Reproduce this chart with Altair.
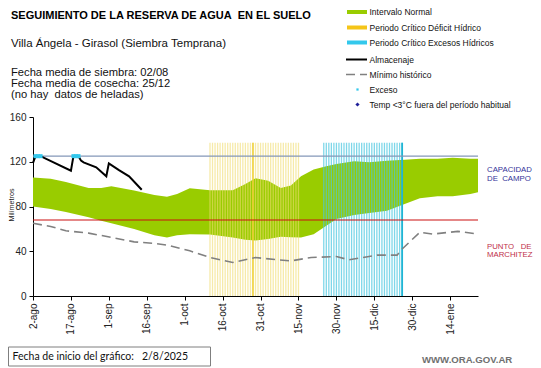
import json
import altair as alt
import pandas as pd

# ---------------- data (days since 2-ago-2025) ----------------
band_day = [0, 7, 13, 22, 27, 31, 40, 48, 53, 57, 62, 70, 79, 84, 88, 93, 98, 102,
            106, 111, 116, 120, 127, 133, 140, 147, 153, 160, 166, 173, 176]
band_low = [80, 77.8, 75, 70.3, 67.3, 65, 60, 54.4, 52.4, 54.4, 55.3, 55, 52.4, 50.2,
            49.7, 51, 53, 52.5, 52.4, 55.3, 62.8, 68.8, 72.4, 74.2, 76.2, 82.2, 87.3,
            89.1, 89.1, 91.2, 92.7]
band_high = [106, 104.7, 102, 96.6, 96.6, 98, 94.2, 90.3, 88.8, 91.2, 96.3, 94.5, 94.5,
             100.2, 105.3, 103, 96.6, 98.7, 107, 113, 116, 118, 120.5, 119.6, 120.8,
             121.7, 122.6, 122.6, 123.5, 122.6, 122.6]

min_day = [0, 7, 13, 22, 31, 40, 48, 53, 62, 70, 79, 88, 97, 102, 110, 120, 125, 136,
           144, 146, 153, 158, 168, 176]
min_val = [65, 62.2, 58.3, 56.2, 52.4, 48.4, 47, 45.5, 40.4, 34.4, 30, 34.4, 32.3,
           31.4, 34.4, 35.3, 32.3, 36.5, 36.5, 42, 57, 55.3, 57.8, 55.3]

alm_day = [0, 1, 3, 15, 16, 18, 19, 20, 25, 29, 30, 34, 38, 43]
alm_val = [119, 125, 125, 112, 125, 125, 121, 119.5, 115, 107, 118.5, 112.5, 107, 95]

exceso_day = [1, 2, 3, 16, 17, 18]
exceso_val = [125, 125, 125, 125, 125, 125]

capacidad_campo = 125
punto_marchitez = 68

deficit_period = (70, 105)
deficit_mark_day = 87
exceso_period = (115, 146)
period_top = 137

tick_days = [0, 15, 30, 45, 60, 75, 90, 105, 120, 135, 150, 165]
tick_labels = ["2-ago", "17-ago", "1-sep", "16-sep", "1-oct", "16-oct", "31-oct",
               "15-nov", "30-nov", "15-dic", "30-dic", "14-ene"]

NB = "\u00a0"

# ---------------- geometry ----------------
W, H = 445, 179
OX, OY = 33, 117   # page position of plot origin
FONT = "Liberation Sans"

xs = alt.Scale(domain=[0, 176], nice=False, zero=False)
ys = alt.Scale(domain=[0, 160], nice=False)

label_expr = json.dumps(tick_labels) + "[round(datum.value/15)]"

band_df = pd.DataFrame({"d": band_day, "lo": band_low, "hi": band_high})
band = alt.Chart(band_df).mark_area(color="#99CC00", opacity=1).encode(
    x=alt.X("d:Q", scale=xs,
            axis=alt.Axis(values=tick_days, labelExpr=label_expr, labelAngle=-90,
                          title=None, grid=False, tickSize=4, labelFontSize=10,
                          labelPadding=3, domainColor="#000", tickColor="#000",
                          labelColor="#222", labelFont=FONT)),
    y=alt.Y("lo:Q", scale=ys,
            axis=alt.Axis(values=list(range(0, 161, 20)), title=None,
                          grid=False, tickSize=4, labelFontSize=10,
                          labelPadding=3, domainColor="#000", tickColor="#000",
                          labelColor="#222", labelFont=FONT)),
    y2="hi:Q",
)

def stripes(period, color, op):
    days = list(range(period[0], period[1] + 1))
    df = pd.DataFrame({"d": days, "b": [0] * len(days), "t": [period_top] * len(days)})
    return alt.Chart(df).mark_rule(color=color, strokeWidth=1.3, opacity=op).encode(
        x=alt.X("d:Q", scale=xs), y=alt.Y("b:Q", scale=ys), y2="t:Q")

def single_rule(day, color, width):
    df = pd.DataFrame({"d": [day], "b": [0], "t": [period_top]})
    return alt.Chart(df).mark_rule(color=color, strokeWidth=width).encode(
        x=alt.X("d:Q", scale=xs), y=alt.Y("b:Q", scale=ys), y2="t:Q")

yel = stripes(deficit_period, "#F0DC70", 0.6)
yel_mark = single_rule(deficit_mark_day, "#EFD030", 1.4)
blu = stripes(exceso_period, "#48C6E0", 0.7)
blu_mark = single_rule(exceso_period[1], "#1FB5D5", 1.8)

cap = alt.Chart(pd.DataFrame({"v": [capacidad_campo]})).mark_rule(
    color="#8497B8", strokeWidth=1.2).encode(y=alt.Y("v:Q", scale=ys))
mar = alt.Chart(pd.DataFrame({"v": [punto_marchitez]})).mark_rule(
    color="#CC1010", strokeWidth=1.1).encode(y=alt.Y("v:Q", scale=ys))

minl = alt.Chart(pd.DataFrame({"d": min_day, "v": min_val})).mark_line(
    color="#808080", strokeWidth=1.6, strokeDash=[9, 5]).encode(
    x=alt.X("d:Q", scale=xs), y=alt.Y("v:Q", scale=ys))

alm = alt.Chart(pd.DataFrame({"d": alm_day, "v": alm_val})).mark_line(
    color="#000", strokeWidth=2).encode(
    x=alt.X("d:Q", scale=xs), y=alt.Y("v:Q", scale=ys))

exc = alt.Chart(pd.DataFrame({"d": exceso_day, "v": exceso_val})).mark_square(
    color="#33C8EC", size=16, opacity=1, filled=True).encode(
    x=alt.X("d:Q", scale=xs), y=alt.Y("v:Q", scale=ys))

# ---------------- annotation helpers (page coordinates) ----------------
def txt(s, x, y, size, color="#111", weight="normal", font=FONT, align="left", angle=0):
    kw = dict(align=align, baseline="middle", fontSize=size, color=color,
              fontWeight=weight, font=font)
    if angle:
        kw["angle"] = angle
    return alt.Chart(pd.DataFrame({"t": [s]})).mark_text(**kw).encode(
        x=alt.value(x - OX), y=alt.value(y - OY), text="t:N")

def hseg(x1, x2, y, color, width, dash=None):
    kw = dict(color=color, strokeWidth=width)
    if dash:
        kw["strokeDash"] = dash
    return alt.Chart(pd.DataFrame({"a": [0]})).mark_rule(**kw).encode(
        x=alt.value(x1 - OX), x2=alt.value(x2 - OX), y=alt.value(y - OY))

def dot(x, y, shape, color, size):
    return alt.Chart(pd.DataFrame({"a": [0]})).mark_point(
        shape=shape, color=color, filled=True, size=size, opacity=1).encode(
        x=alt.value(x - OX), y=alt.value(y - OY))

texts = [
    txt("SEGUIMIENTO DE LA RESERVA DE AGUA" + NB + NB + "EN EL SUELO", 11, 16, 11, "#000", "bold"),
    txt("Villa Ángela - Girasol (Siembra Temprana)", 11, 44, 11.5, "#111"),
    txt("Fecha media de siembra: 02/08", 11, 73, 11.2, "#111"),
    txt("Fecha media de cosecha: 25/12", 11, 84, 11.2, "#111"),
    txt("(no hay" + NB + NB + "datos de heladas)", 11, 95, 11.2, "#111"),
    txt("Milímetros", 12, 205, 7.2, "#222", align="center", angle=270),
]

lx, ltx = 347, 369.5
legend = [
    hseg(lx, 367, 12, "#99CC00", 4), txt("Intervalo Normal", ltx, 12, 8.5),
    hseg(lx, 367, 27.5, "#F5C518", 4), txt("Periodo Crítico Déficit Hídrico", ltx, 27.5, 8.5),
    hseg(lx, 367, 42.5, "#33C8EC", 4), txt("Periodo Crítico Excesos Hídricos", ltx, 42.5, 8.5),
    hseg(lx - 1, 367, 59.5, "#000", 2), txt("Almacenaje", ltx, 59.5, 8.5),
    hseg(lx - 1, 367, 74.5, "#808080", 1.6, [9, 5]), txt("Mínimo histórico", ltx, 74.5, 8.5),
    dot(357.5, 89.5, "square", "#33C8EC", 5), txt("Exceso", ltx, 89.5, 8.5),
    dot(357.5, 104.5, "diamond", "#1F1F99", 18),
    txt("Temp <3°C fuera del período habitual", ltx, 104.5, 8.5),
]

side = [
    txt("CAPACIDAD", 487, 170, 7.8, "#333399"),
    txt("DE" + NB + NB + "CAMPO", 487, 179, 7.8, "#333399"),
    txt("PUNTO" + NB + NB + NB + "DE", 487, 246.5, 7.8, "#C0304A"),
    txt("MARCHITEZ", 487, 255, 7.8, "#C0304A"),
]

box = alt.Chart(pd.DataFrame({"a": [0]})).mark_rect(
    fill="white", stroke="#7F7F7F", strokeWidth=1).encode(
    x=alt.value(8.5 - OX), x2=alt.value(210.5 - OX),
    y=alt.value(347 - OY), y2=alt.value(366 - OY))

footer = [
    box,
    txt("Fecha de inicio del gráfico:" + NB + NB + NB + "2/8/2025", 12.5, 356.5, 10.5, "#111", font="Lato"),
    txt("WWW.ORA.GOV.AR", 422, 360, 9.6, "#707070", "bold"),
]

chart = alt.layer(band, yel, yel_mark, blu, blu_mark, cap, mar, minl, alm, exc,
                  *texts, *legend, *side, *footer).properties(
    width=W, height=H,
    autosize=alt.AutoSizeParams(type="none"),
    padding={"left": OX - 8, "top": OY - 8, "right": 541 - 16 - (OX - 8) - W,
             "bottom": 368 - 8 - (OY - 8) - H},
    background="white",
).configure_view(stroke=None)

chart.save("out.html", embed_options={"renderer": "svg", "actions": False})
